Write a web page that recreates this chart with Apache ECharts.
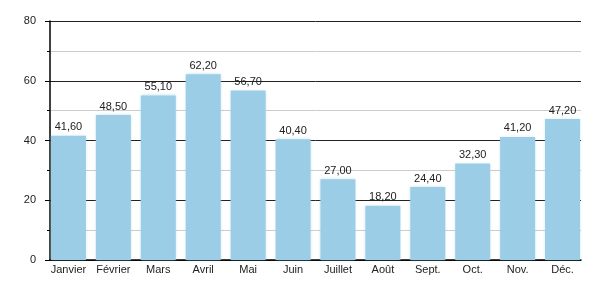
<!DOCTYPE html>
<html><head><meta charset="utf-8">
<script src="https://cdn.jsdelivr.net/npm/echarts@6/dist/echarts.min.js"></script>
<style>html,body{margin:0;padding:0;background:#fff}#c{width:600px;height:300px}</style>
</head><body><div id="c"></div>
<script>
const categories = ['Janvier','Février','Mars','Avril','Mai','Juin','Juillet','Août','Sept.','Oct.','Nov.','Déc.'];
const values = [41.6,48.5,55.1,62.2,56.7,40.4,27.0,18.2,24.4,32.3,41.2,47.2];
const yTicks = [0,20,40,60,80];
const yMin = yTicks[0], yMax = yTicks[yTicks.length-1];

const chart = echarts.init(document.getElementById('c'), null, {renderer:'canvas'});
chart.setOption({
  animation:false,
  textStyle:{fontFamily:'Liberation Sans, Arial, sans-serif'},
  grid:[
    {left:50,right:19,top:21,bottom:40},
    {left:46,right:15,top:21,bottom:40}
  ],
  xAxis:[
    {gridIndex:0,type:'value',min:0,max:1,
      axisLine:{show:true,onZero:false,lineStyle:{color:'#000',width:1.5}},
      axisTick:{show:false},axisLabel:{show:false},splitLine:{show:false}},
    {gridIndex:1,type:'category',data:categories,
      axisLine:{show:false},axisTick:{show:false},
      axisLabel:{color:'#222',fontSize:11,margin:4,interval:0}}
  ],
  yAxis:[
    {gridIndex:0,type:'value',min:yMin,max:yMax,interval:20,
      axisLine:{show:true,lineStyle:{color:'#000',width:1.5}},
      axisTick:{show:true,length:5,lineStyle:{color:'#000'}},
      minorTick:{show:true,splitNumber:2,length:3,lineStyle:{color:'#000'}},
      splitLine:{lineStyle:{color:'#222',width:1}},
      minorSplitLine:{show:true,lineStyle:{color:'#ccc',width:1}},
      axisLabel:{color:'#222',fontSize:11,margin:14}},
    {gridIndex:1,type:'value',min:yMin,max:yMax,show:false,splitLine:{show:false}}
  ],
  series:[{
    type:'bar', xAxisIndex:1, yAxisIndex:1, data:values, barWidth:35,
    itemStyle:{color:'#9ccde6',shadowColor:'rgba(156,205,230,0.6)',shadowBlur:3},
    label:{show:true,position:'top',distance:3,color:'#222',fontSize:11,
      formatter:p=>p.value.toFixed(2).replace('.',',')}
  }]
});
</script></body></html>
